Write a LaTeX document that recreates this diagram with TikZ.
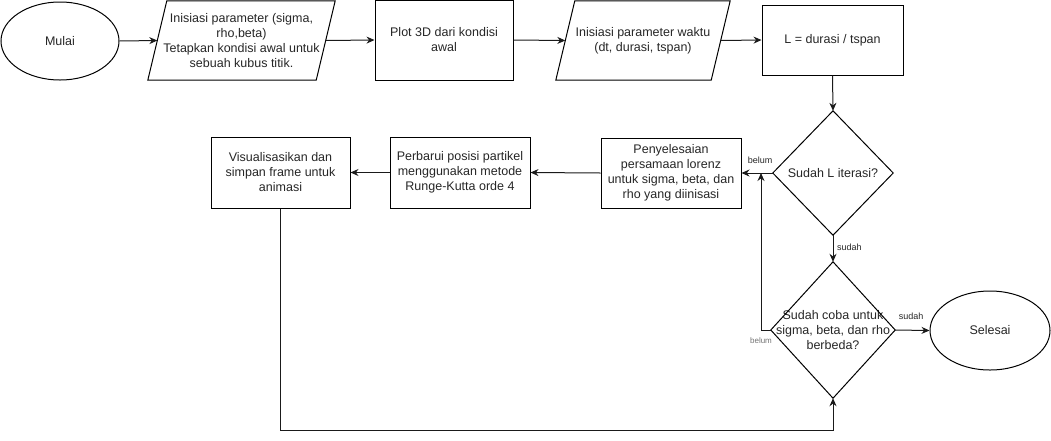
\documentclass[tikz,border=0pt]{standalone}
\usepackage{fontspec}
\setmainfont{Liberation Sans}
\usetikzlibrary{shapes.geometric,arrows.meta,calc}
\definecolor{txt}{HTML}{262626}
\definecolor{ln}{HTML}{1A1A1A}
\begin{document}
\begin{tikzpicture}[x=1pt,y=-1pt,
  every node/.style={font=\fontsize{12.5}{15}\selectfont, text=txt, align=center, inner sep=0pt},
  shp/.style={draw=black, line width=1pt},
  arr/.style={draw=ln, line width=1pt, -{Stealth[length=8pt,width=7pt]}},
  lbl/.style={font=\fontsize{9}{10}\selectfont, text=txt},
  lblg/.style={font=\fontsize{8}{9}\selectfont, text=black!55}]
\useasboundingbox (0,0) rectangle (1051,440);
% top row
\node[shp, ellipse, minimum width=118, minimum height=78] (mulai) at (60,41) {Mulai};
\node[minimum width=187, minimum height=79] (p1) at (241.5,40.5) {Inisiasi parameter (sigma,\\rho,beta)\\Tetapkan kondisi awal untuk\\sebuah kubus titik.};
\draw[shp] ($(p1.north west)+(19,0)$) -- (p1.north east) -- ($(p1.south east)+(-19,0)$) -- (p1.south west) -- cycle;
\coordinate (p1in) at ($(p1.west)+(9.5,0)$);
\coordinate (p1out) at ($(p1.east)+(-9.5,0)$);
\node[shp, minimum width=138, minimum height=80] (plot) at (444,40) {Plot 3D dari kondisi\\awal};
\node[minimum width=174, minimum height=79] (p2) at (643,40.5) {Inisiasi parameter waktu\\(dt, durasi, tspan)};
\draw[shp] ($(p2.north west)+(19,0)$) -- (p2.north east) -- ($(p2.south east)+(-19,0)$) -- (p2.south west) -- cycle;
\coordinate (p2in) at ($(p2.west)+(9.5,0)$);
\coordinate (p2out) at ($(p2.east)+(-9.5,0)$);
\node[shp, minimum width=141, minimum height=70] (L) at (832.5,40) {L = durasi / tspan};
% middle row
\node[minimum width=120, minimum height=124] (d1) at (833,173) {Sudah L iterasi?};
\draw[shp] (d1.north) -- (d1.east) -- (d1.south) -- (d1.west) -- cycle;
\node[shp, minimum width=140, minimum height=70] (pen) at (671,173) {Penyelesaian\\persamaan lorenz\\untuk sigma, beta, dan\\rho yang diinisasi};
\node[shp, minimum width=140, minimum height=71] (perb) at (460,172.5) {Perbarui posisi partikel\\menggunakan metode\\Runge-Kutta orde 4};
\node[shp, minimum width=139, minimum height=71] (vis) at (280.5,172.5) {Visualisasikan dan\\simpan frame untuk\\animasi};
% bottom row
\node[minimum width=124, minimum height=136] (d2) at (833,330) {Sudah coba untuk\\sigma, beta, dan rho\\berbeda?};
\draw[shp] (d2.north) -- (d2.east) -- (d2.south) -- (d2.west) -- cycle;
\node[shp, ellipse, minimum width=120, minimum height=79] (sel) at (990,330.5) {Selesai};
\coordinate (j) at (761,173);
% connectors
\draw[arr] (mulai.east) -- (p1in);
\draw[arr] (p1out) -- (plot.west);
\draw[arr] (plot.east) -- (p2in);
\draw[arr] (p2out) -- (L.west);
\draw[arr] (L.south) -- (d1.north);
\draw[arr] (d1.west) -- (pen.east);
\draw[arr] (pen.west) -- (perb.east);
\draw[arr] (perb.west) -- (vis.east);
\draw[arr] (d1.south) -- (d2.north);
\draw[arr] (d2.east) -- (sel.west);
\draw[arr] (d2.west) -| (j);
\draw[arr] (vis.south) |- ($(d2.south)+(0,32)$) -- (d2.south);
% labels
\node[lbl] (lb1) at (760,160) {belum};
\node[lbl, anchor=west] (ls1) at (837,247) {sudah};
\node[lbl] (ls2) at (911,316) {sudah};
\node[lblg] (lb2) at (761,341) {belum};
\end{tikzpicture}
\end{document}
